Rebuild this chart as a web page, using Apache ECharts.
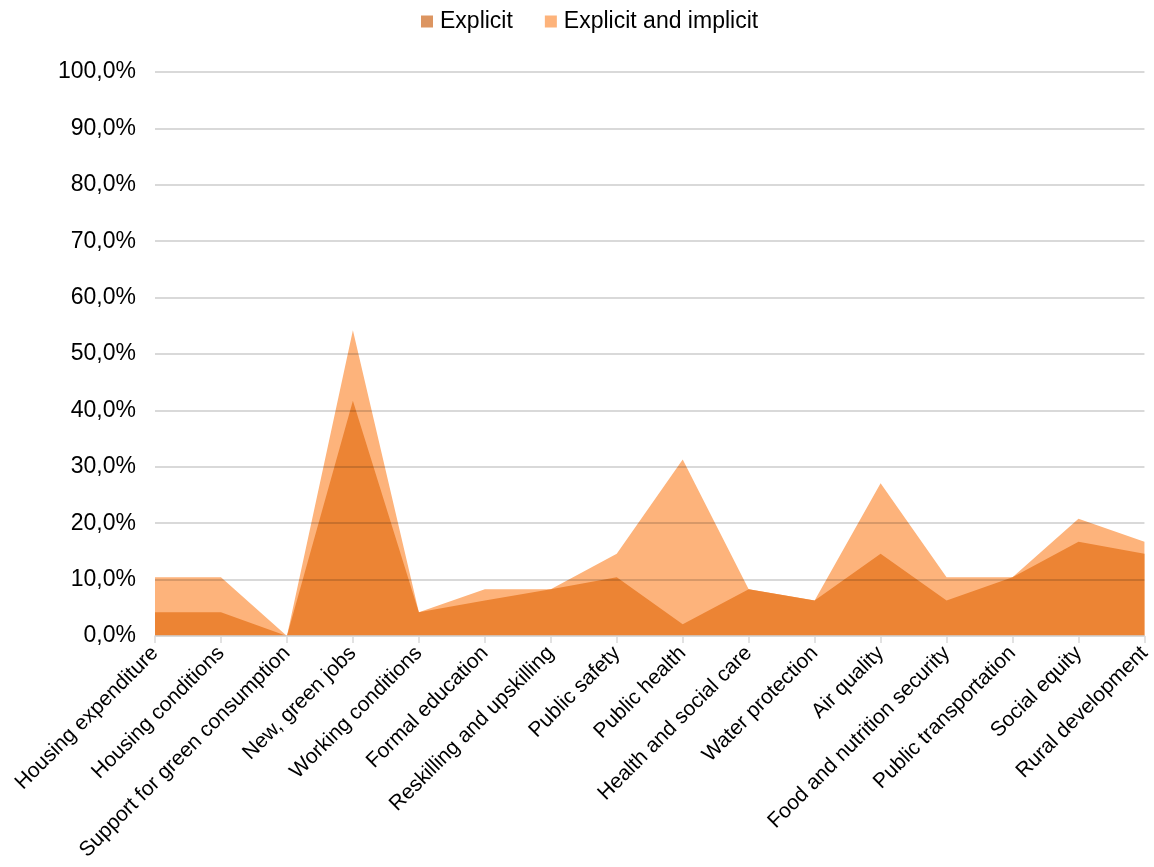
<!DOCTYPE html>
<html>
<head>
<meta charset="utf-8">
<script src="https://cdn.jsdelivr.net/npm/echarts@6/dist/echarts.min.js"></script>
<style>
  html, body { margin: 0; padding: 0; background: #fff; }
  #chart { width: 1154px; height: 867px; }
</style>
</head>
<body>
<div id="chart"></div>
<script>
const categories = [
  'Housing expenditure', 'Housing conditions', 'Support for green consumption',
  'New, green jobs', 'Working conditions', 'Formal education',
  'Reskilling and upskilling', 'Public safety', 'Public health',
  'Health and social care', 'Water protection', 'Air quality',
  'Food and nutrition security', 'Public transportation', 'Social equity',
  'Rural development'
];
// Share of documents (%)
const explicitValues = [4.2, 4.2, 0, 41.7, 4.2, 6.3, 8.3, 10.4, 2.1, 8.3, 6.3, 14.6, 6.3, 10.4, 16.7, 14.6];
const explicitImplicitValues = [10.4, 10.4, 0, 54.2, 4.2, 8.3, 8.3, 14.6, 31.3, 8.3, 6.3, 27.1, 10.4, 10.4, 20.8, 16.7];
const yTicks = { min: 0, max: 100, interval: 10 };

const font = 'Liberation Sans, Arial, sans-serif';
const chart = echarts.init(document.getElementById('chart'), null, { renderer: 'canvas' });

chart.setOption({
  animation: false,
  backgroundColor: '#ffffff',
  textStyle: { fontFamily: font },
  legend: {
    top: 5,
    left: 416,
    data: ['Explicit', 'Explicit and implicit'],
    itemWidth: 12,
    itemHeight: 12,
    itemGap: 32,
    icon: 'rect',
    textStyle: { fontSize: 23, color: '#000', fontFamily: font, padding: [0, 0, 0, 2] }
  },
  grid: { left: 155, right: 9, top: 72, bottom: 231, containLabel: false },
  xAxis: {
    type: 'category',
    data: categories,
    boundaryGap: false,
    axisLine: { lineStyle: { color: '#d9d9d9', width: 1.5 } },
    axisTick: { show: true, length: 7, lineStyle: { color: '#d9d9d9', width: 1.5 }, alignWithLabel: true },
    axisLabel: { rotate: 45, interval: 0, fontSize: 21, color: '#000', fontFamily: font, margin: 14 },
    z: 5
  },
  yAxis: {
    type: 'value',
    min: yTicks.min,
    max: yTicks.max,
    interval: yTicks.interval,
    axisLine: { show: false },
    axisTick: { show: false },
    splitLine: { lineStyle: { color: 'rgba(0,0,0,0.15)', width: 2 } },
    axisLabel: {
      fontSize: 23,
      color: '#000',
      fontFamily: font,
      margin: 19,
      formatter: v => v.toFixed(1).replace('.', ',') + '%'
    },
    z: 5
  },
  series: [
    {
      name: 'Explicit and implicit',
      type: 'line',
      data: explicitImplicitValues,
      symbol: 'none',
      lineStyle: { width: 0 },
      itemStyle: { color: '#fdb37b' },
      areaStyle: { color: '#fdb37b', opacity: 1 },
      z: 2
    },
    {
      name: 'Explicit',
      type: 'line',
      data: explicitValues,
      symbol: 'none',
      lineStyle: { width: 0 },
      itemStyle: { color: '#dc9561' },
      areaStyle: { color: '#ec8434', opacity: 1 },
      z: 3
    }
  ]
});
</script>
</body>
</html>
